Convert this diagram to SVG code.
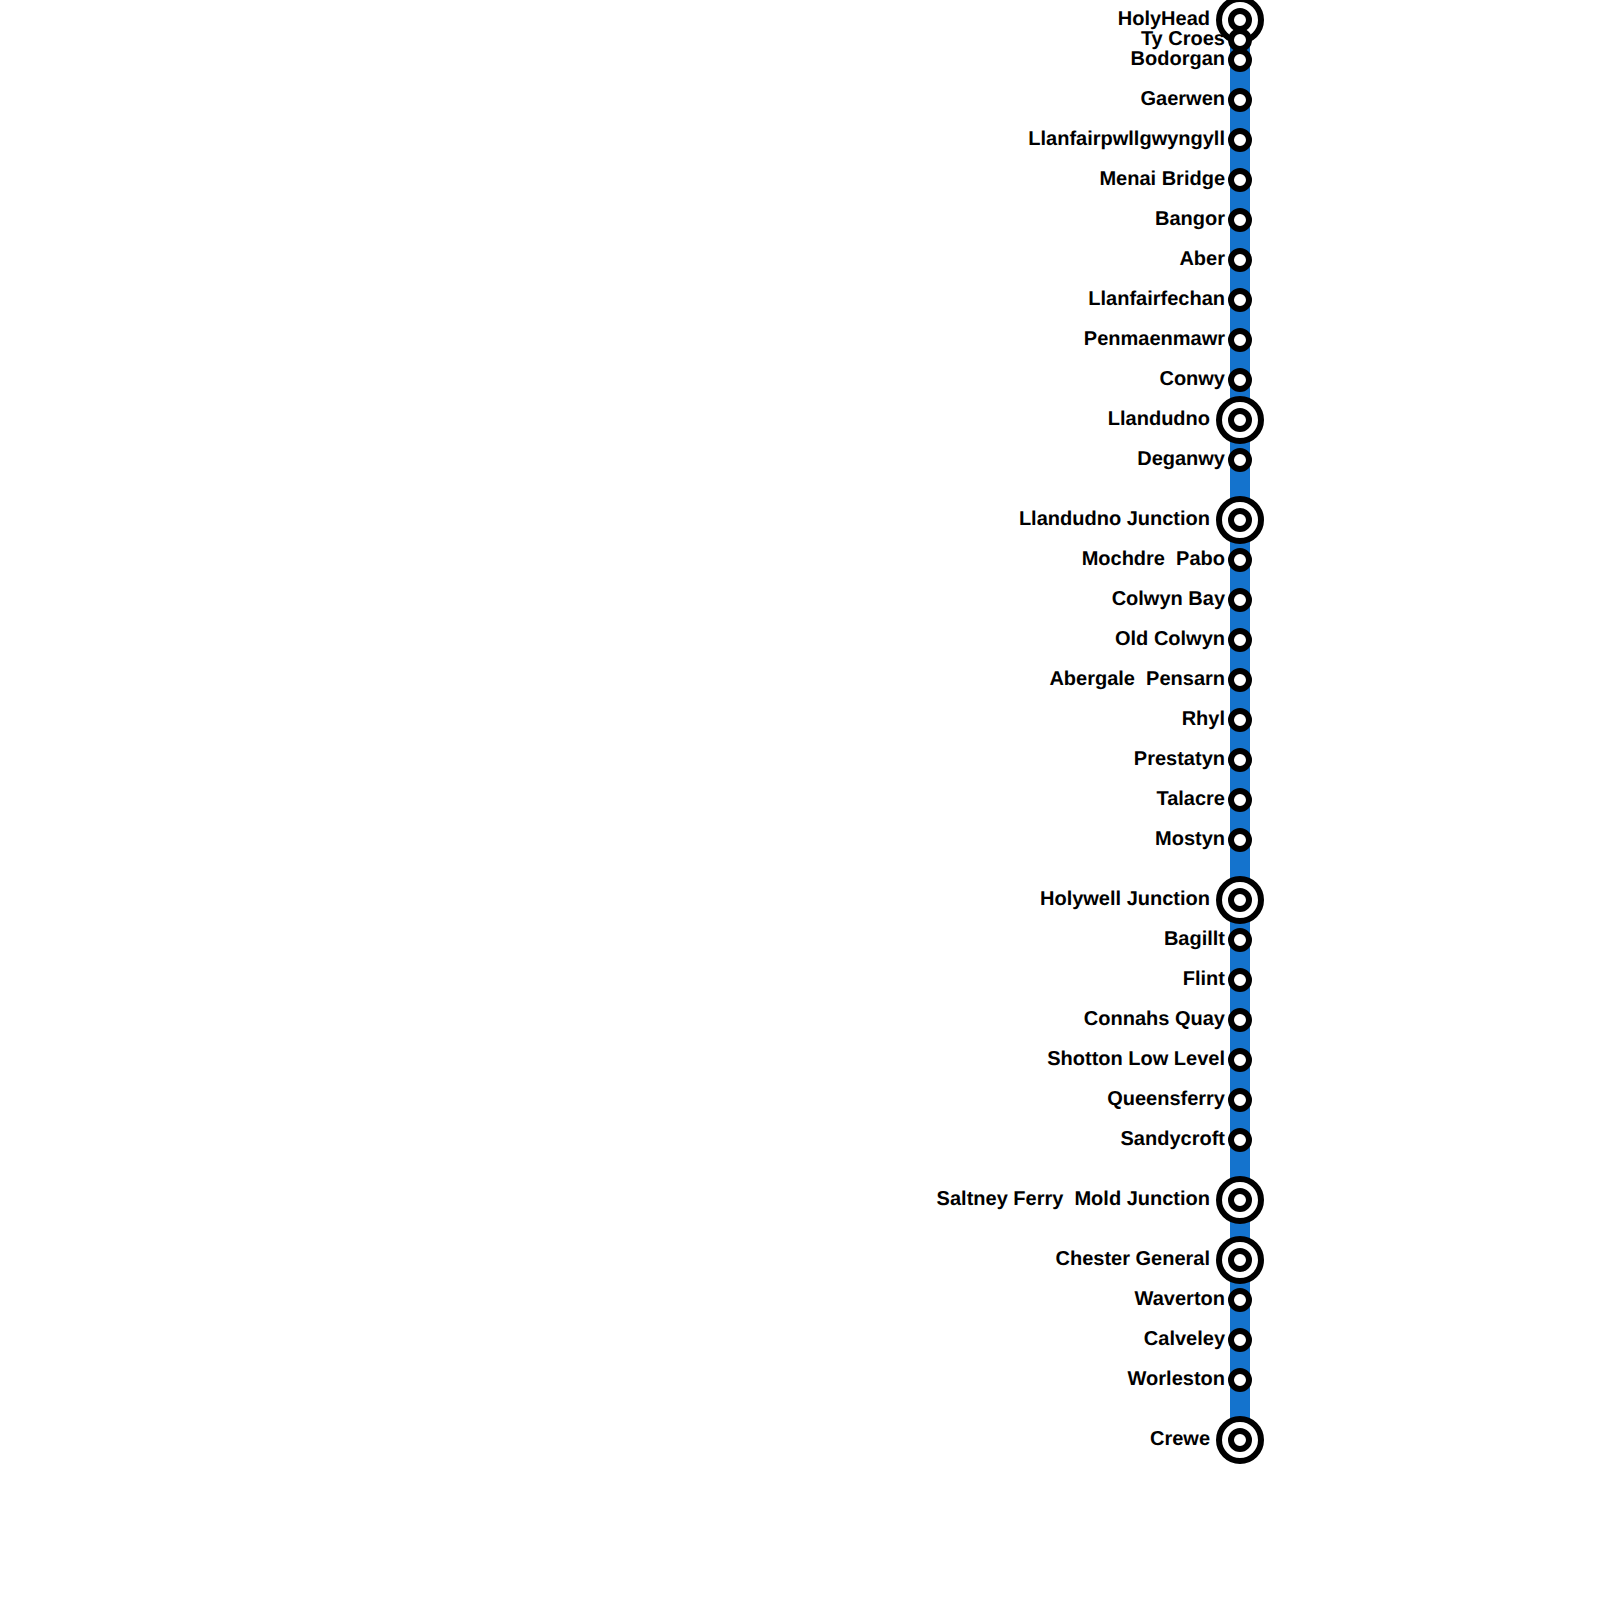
<svg xmlns="http://www.w3.org/2000/svg" width="1600" height="1600" viewBox="0 0 1600 1600">
<style>
text{font-family:"Liberation Sans",Arial,sans-serif;font-weight:bold;font-size:20px;fill:#000;text-anchor:end;white-space:pre;text-rendering:geometricPrecision}
.o{fill:#fff;stroke:#000;stroke-width:6}
.i{fill:#fff;stroke:#000;stroke-width:6}
</style>
<rect width="1600" height="1600" fill="#fff"/>
<g id="connectors"><line x1="1240" y1="20" x2="1240" y2="1440" stroke="#1473cd" stroke-width="20"/></g>
<g id="holyhead"><circle class="o" cx="1240" cy="20" r="21"/><circle class="i" cx="1240" cy="20" r="9"/><text x="1210" y="25">HolyHead</text></g>
<g id="ty-croes"><circle class="i" cx="1240" cy="40" r="9"/><text x="1225" y="45">Ty Croes</text></g>
<g id="bodorgan"><circle class="i" cx="1240" cy="60" r="9"/><text x="1225" y="65">Bodorgan</text></g>
<g id="gaerwen"><circle class="i" cx="1240" cy="100" r="9"/><text x="1225" y="105">Gaerwen</text></g>
<g id="llanfairpwll"><circle class="i" cx="1240" cy="140" r="9"/><text x="1225" y="145">Llanfairpwllgwyngyll</text></g>
<g id="menai-bridge"><circle class="i" cx="1240" cy="180" r="9"/><text x="1225" y="185">Menai Bridge</text></g>
<g id="bangor"><circle class="i" cx="1240" cy="220" r="9"/><text x="1225" y="225">Bangor</text></g>
<g id="aber"><circle class="i" cx="1240" cy="260" r="9"/><text x="1225" y="265">Aber</text></g>
<g id="llanfairfechan"><circle class="i" cx="1240" cy="300" r="9"/><text x="1225" y="305">Llanfairfechan</text></g>
<g id="penmaenmawr"><circle class="i" cx="1240" cy="340" r="9"/><text x="1225" y="345">Penmaenmawr</text></g>
<g id="conwy"><circle class="i" cx="1240" cy="380" r="9"/><text x="1225" y="385">Conwy</text></g>
<g id="llandudno"><circle class="o" cx="1240" cy="420" r="21"/><circle class="i" cx="1240" cy="420" r="9"/><text x="1210" y="425">Llandudno</text></g>
<g id="deganwy"><circle class="i" cx="1240" cy="460" r="9"/><text x="1225" y="465">Deganwy</text></g>
<g id="llandudno-junction"><circle class="o" cx="1240" cy="520" r="21"/><circle class="i" cx="1240" cy="520" r="9"/><text x="1210" y="525">Llandudno Junction</text></g>
<g id="mochdre-pabo"><circle class="i" cx="1240" cy="560" r="9"/><text x="1225" y="565">Mochdre  Pabo</text></g>
<g id="colwyn-bay"><circle class="i" cx="1240" cy="600" r="9"/><text x="1225" y="605">Colwyn Bay</text></g>
<g id="old-colwyn"><circle class="i" cx="1240" cy="640" r="9"/><text x="1225" y="645">Old Colwyn</text></g>
<g id="abergale-pensarn"><circle class="i" cx="1240" cy="680" r="9"/><text x="1225" y="685">Abergale  Pensarn</text></g>
<g id="rhyl"><circle class="i" cx="1240" cy="720" r="9"/><text x="1225" y="725">Rhyl</text></g>
<g id="prestatyn"><circle class="i" cx="1240" cy="760" r="9"/><text x="1225" y="765">Prestatyn</text></g>
<g id="talacre"><circle class="i" cx="1240" cy="800" r="9"/><text x="1225" y="805">Talacre</text></g>
<g id="mostyn"><circle class="i" cx="1240" cy="840" r="9"/><text x="1225" y="845">Mostyn</text></g>
<g id="holywell-junction"><circle class="o" cx="1240" cy="900" r="21"/><circle class="i" cx="1240" cy="900" r="9"/><text x="1210" y="905">Holywell Junction</text></g>
<g id="bagillt"><circle class="i" cx="1240" cy="940" r="9"/><text x="1225" y="945">Bagillt</text></g>
<g id="flint"><circle class="i" cx="1240" cy="980" r="9"/><text x="1225" y="985">Flint</text></g>
<g id="connahs-quay"><circle class="i" cx="1240" cy="1020" r="9"/><text x="1225" y="1025">Connahs Quay</text></g>
<g id="shotton-low-level"><circle class="i" cx="1240" cy="1060" r="9"/><text x="1225" y="1065">Shotton Low Level</text></g>
<g id="queensferry"><circle class="i" cx="1240" cy="1100" r="9"/><text x="1225" y="1105">Queensferry</text></g>
<g id="sandycroft"><circle class="i" cx="1240" cy="1140" r="9"/><text x="1225" y="1145">Sandycroft</text></g>
<g id="saltney-ferry"><circle class="o" cx="1240" cy="1200" r="21"/><circle class="i" cx="1240" cy="1200" r="9"/><text x="1210" y="1205">Saltney Ferry  Mold Junction</text></g>
<g id="chester-general"><circle class="o" cx="1240" cy="1260" r="21"/><circle class="i" cx="1240" cy="1260" r="9"/><text x="1210" y="1265">Chester General</text></g>
<g id="waverton"><circle class="i" cx="1240" cy="1300" r="9"/><text x="1225" y="1305">Waverton</text></g>
<g id="calveley"><circle class="i" cx="1240" cy="1340" r="9"/><text x="1225" y="1345">Calveley</text></g>
<g id="worleston"><circle class="i" cx="1240" cy="1380" r="9"/><text x="1225" y="1385">Worleston</text></g>
<g id="crewe"><circle class="o" cx="1240" cy="1440" r="21"/><circle class="i" cx="1240" cy="1440" r="9"/><text x="1210" y="1445">Crewe</text></g>
</svg>
